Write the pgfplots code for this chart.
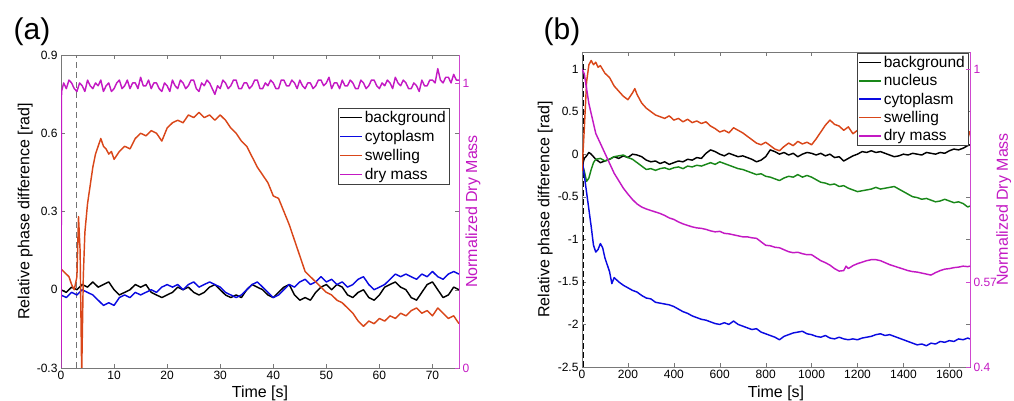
\documentclass[border=0pt]{standalone}
\usepackage{fontspec}
\setmainfont{Liberation Sans}
\usepackage{pgfplots}
\pgfplotsset{compat=1.18}

\definecolor{colSwell}{RGB}{217,70,25}
\definecolor{colCyto}{RGB}{10,10,225}
\definecolor{colNuc}{RGB}{25,135,25}
\definecolor{colDry}{RGB}{195,25,195}
\definecolor{axgray}{RGB}{120,120,120}

\pgfplotsset{
  base/.style={
    scale only axis,
    /pgf/number format/assume math mode=true,
    /pgf/number format/1000 sep={},
    tick label style={font=\fontsize{12}{14}\selectfont},
    label style={font=\fontsize{16}{18}\selectfont},
    axis line style={axgray},
    tick style={axgray},
    tick align=inside,
    major tick length=4pt,
    clip=true,
  },
  dat/.style={line width=1.45pt, line join=round},
  legbox/.style={
    legend style={draw=black!75, fill=white,
      font=\fontsize{15.5}{16}\selectfont,
      inner xsep=1pt, inner ysep=1pt, row sep=2.3pt,
      cells={anchor=west}},
    legend image code/.code={\draw[##1] (0pt,0pt) -- (22pt,0pt);},
  },
}

\begin{document}
\begin{tikzpicture}
\path[use as bounding box] (0pt,0pt) rectangle (1014pt,401pt);

% ---------------- panel (a) ----------------
\begin{axis}[base, legbox,
  at={(61pt,33pt)}, anchor=south west,
  width=398pt, height=313pt,
  xmin=0, xmax=75, ymin=-0.3, ymax=0.9,
  xtick={0,10,...,70}, ytick={-0.3,0,0.3,0.6,0.9},
  yticklabels={-0.3,0,0.3,0.6,0.9},
  xlabel={Time [s]}, ylabel={Relative phase difference [rad]},
  xlabel style={at={(axis description cs:0.5,-0.08)}, anchor=center},
  ylabel style={at={(axis description cs:-0.09,0.5)}, anchor=center},
  legend style={at={(0.975,0.831)}, anchor=north east},
]
\addplot[forget plot, line width=1.3pt, dash pattern=on 6pt off 4pt, black!55] coordinates {(2.9,-0.3) (2.9,0.9)};
% background
\addplot[dat, black] coordinates {
(0,0.00)(1,-0.01)(2,0.01)(3,0.00)(4,0.02)(5,0.01)(6,0.03)(7,0.01)(8,0.02)(9,0.03)
(10,0.00)(11,-0.02)(12,-0.01)(13,0.00)(14,0.02)(15,0.01)(16,0.02)(17,-0.01)(18,-0.02)(19,-0.03)
(20,-0.02)(21,-0.01)(22,0.01)(23,0.00)(24,0.01)(25,-0.01)(26,-0.02)(27,-0.01)(28,0.01)(29,0.02)
(30,0.00)(31,-0.02)(32,-0.03)(33,-0.02)(34,-0.03)(35,0.00)(36,0.02)(37,0.01)(38,0.00)(39,-0.02)
(40,-0.03)(41,-0.01)(42,0.01)(43,0.02)(44,-0.02)(45,-0.04)(46,-0.03)(47,-0.04)(48,-0.01)(49,0.01)
(50,0.02)(51,0.00)(52,0.02)(53,0.01)(54,-0.02)(55,-0.03)(56,-0.01)(57,0.00)(58,-0.03)(59,-0.04)
(60,-0.02)(61,0.01)(62,0.02)(63,0.03)(64,0.01)(65,0.00)(66,-0.03)(67,-0.04)(68,-0.01)(69,0.02)
(70,0.03)(71,0.00)(72,-0.03)(73,-0.02)(74,0.01)(75,0.00)};
\addlegendentry{background}
% cytoplasm
\addplot[dat, colCyto] coordinates {
(0,-0.02)(1,-0.03)(2,-0.01)(3,-0.02)(4,0.00)(5,-0.01)(6,-0.02)(7,-0.04)(8,-0.06)(9,-0.05)
(10,-0.06)(11,-0.03)(12,-0.02)(13,-0.03)(14,-0.01)(15,-0.02)(16,-0.01)(17,0.00)(18,-0.01)(19,0.01)
(20,0.02)(21,0.01)(22,0.02)(23,0.00)(24,0.02)(25,0.03)(26,0.01)(27,0.02)(28,0.03)(29,0.02)
(30,0.01)(31,-0.01)(32,-0.02)(33,-0.03)(34,-0.02)(35,0.00)(36,0.02)(37,0.03)(38,0.01)(39,-0.01)
(40,-0.03)(41,-0.02)(42,0.00)(43,0.02)(44,0.01)(45,0.03)(46,0.04)(47,0.02)(48,0.03)(49,0.05)
(50,0.03)(51,0.04)(52,0.02)(53,0.03)(54,0.01)(55,0.02)(56,0.04)(57,0.05)(58,0.02)(59,0.00)
(60,0.01)(61,0.02)(62,0.04)(63,0.06)(64,0.05)(65,0.06)(66,0.05)(67,0.04)(68,0.06)(69,0.05)
(70,0.07)(71,0.05)(72,0.04)(73,0.06)(74,0.07)(75,0.06)};
\addlegendentry{cytoplasm}
% swelling
\addplot[dat, colSwell] coordinates {
(0,0.08)(0.5,0.07)(1,0.06)(1.5,0.05)(2,0.02)(2.5,0.00)(3,0.05)(3.3,0.28)(3.6,0.15)(3.9,-0.32)
(4.2,0.05)(4.5,0.22)(5,0.33)(5.5,0.40)(6,0.47)(6.5,0.52)(7,0.55)(7.5,0.58)(8,0.55)(8.5,0.54)
(9,0.52)(9.5,0.53)(10,0.50)(11,0.53)(12,0.55)(13,0.54)(14,0.58)(15,0.60)(16,0.59)(17,0.61)
(18,0.60)(19,0.57)(20,0.62)(21,0.64)(22,0.65)(23,0.64)(24,0.67)(25,0.66)(26,0.68)(27,0.66)
(28,0.67)(29,0.65)(30,0.67)(31,0.65)(32,0.62)(33,0.60)(34,0.57)(35,0.55)(36,0.51)(37,0.47)
(38,0.44)(39,0.41)(40,0.36)(41,0.35)(42,0.30)(43,0.25)(44,0.19)(45,0.13)(46,0.07)(47,0.05)
(48,0.03)(49,0.01)(50,-0.01)(51,-0.02)(52,-0.04)(53,-0.05)(54,-0.07)(55,-0.09)(56,-0.12)(57,-0.14)
(58,-0.12)(59,-0.13)(60,-0.11)(61,-0.12)(62,-0.10)(63,-0.11)(64,-0.09)(65,-0.10)(66,-0.08)(67,-0.07)
(68,-0.09)(69,-0.08)(70,-0.10)(71,-0.07)(72,-0.09)(73,-0.11)(74,-0.10)(75,-0.13)};
\addlegendentry{swelling}
\addlegendimage{dat, colDry}
\addlegendentry{dry mass}
\end{axis}

\begin{axis}[base,
  at={(61pt,33pt)}, anchor=south west,
  width=398pt, height=313pt,
  xmin=0, xmax=75, ymin=0, ymax=1.098,
  axis x line=none, axis y line*=right,
  y axis line style={colDry!80}, ytick style={colDry!80},
  yticklabel style={text=colDry},
  ytick={0,1},
  ylabel={Normalized Dry Mass},
  ylabel style={text=colDry, at={(axis description cs:1.035,0.5)}, anchor=center},
]
\addplot[dat, colDry] coordinates {
(0,0.00)(0.1,0.97)(0.5,1.00)(1,0.98)(1.5,1.01)(2,1.00)(2.5,0.98)(3,0.97)(3.5,1.00)(4,0.99)(4.5,0.97)
(5,1.01)(5.5,0.99)(6,0.98)(6.5,1.00)(7,0.99)(7.5,1.01)(8,0.97)(8.5,0.99)(9,1.00)(9.5,0.97)
(10,0.98)(10.5,1.00)(11,1.01)(11.5,0.98)(12,0.99)(12.5,1.01)(13,0.98)(13.5,1.00)(14,1.00)(14.5,0.98)
(15,1.02)(15.5,0.99)(16,0.99)(16.5,1.01)(17,0.98)(17.5,1.00)(18,1.00)(18.5,0.98)(19,0.97)(19.5,1.00)
(20,0.99)(20.5,0.97)(21,1.01)(21.5,0.99)(22,0.98)(22.5,1.01)(23,1.00)(23.5,0.98)(24,0.99)(24.5,1.01)
(25,1.01)(25.5,0.98)(26,0.97)(26.5,1.00)(27,0.99)(27.5,1.01)(28,1.00)(28.5,0.98)(29,0.96)(29.5,0.99)
(30,0.98)(30.5,1.01)(31,1.00)(31.5,0.98)(32,0.99)(32.5,1.01)(33,1.01)(33.5,0.98)(34,0.98)(34.5,1.00)
(35,1.00)(35.5,0.98)(36,0.99)(36.5,1.01)(37,1.01)(37.5,0.98)(38,0.98)(38.5,1.00)(39,0.99)(39.5,1.01)
(40,1.00)(40.5,0.98)(41,0.98)(41.5,1.01)(42,1.01)(42.5,0.99)(43,0.99)(43.5,1.01)(44,1.00)(44.5,0.98)
(45,1.01)(45.5,0.99)(46,0.98)(46.5,1.00)(47,1.00)(47.5,0.98)(48,0.99)(48.5,1.01)(49,1.01)(49.5,0.99)
(50,1.00)(50.5,1.02)(51,0.98)(51.5,1.00)(52,1.00)(52.5,0.98)(53,1.01)(53.5,0.99)(54,0.99)(54.5,1.01)
(55,1.00)(55.5,0.98)(56,0.98)(56.5,1.01)(57,1.00)(57.5,0.98)(58,0.99)(58.5,1.01)(59,1.01)(59.5,0.99)
(60,0.98)(60.5,1.00)(61,0.99)(61.5,1.01)(62,1.00)(62.5,0.98)(63,1.02)(63.5,1.00)(64,0.99)(64.5,1.01)
(65,1.00)(65.5,0.98)(66,0.98)(66.5,1.00)(67,0.99)(67.5,0.97)(68,1.01)(68.5,0.99)(69,0.99)(69.5,1.01)
(70,1.01)(70.5,1.00)(71,1.05)(71.5,1.01)(72,1.00)(72.5,1.02)(73,1.02)(73.5,1.00)(74,1.03)(74.5,1.01)(75,1.01)};
\end{axis}

% ---------------- panel (b) ----------------
\begin{axis}[base, legbox,
  at={(582pt,34pt)}, anchor=south west,
  width=388pt, height=315pt,
  xmin=0, xmax=1690, ymin=-2.5, ymax=1.2,
  xtick={0,200,...,1600}, ytick={-2.5,-2,-1.5,-1,-0.5,0,0.5,1},
  yticklabels={-2.5,-2,-1.5,-1,-0.5,0,0.5,1},
  xlabel={Time [s]}, ylabel={Relative phase difference [rad]},
  xlabel style={at={(axis description cs:0.5,-0.0825)}, anchor=center},
  ylabel style={at={(axis description cs:-0.095,0.5)}, anchor=center},
  legend style={at={(0.995,0.997)}, anchor=north east, row sep=1.6pt},
]
\addplot[forget plot, line width=1.4pt, dash pattern=on 6pt off 3pt, black] coordinates {(6,-2.5) (6,1.2)};
% background
\addplot[dat, black] coordinates {
(0,-0.15)(10,-0.05)(20,-0.02)(30,0.02)(40,0.00)(50,-0.03)(60,-0.06)(80,-0.10)(100,-0.08)(120,-0.06)
(140,-0.03)(160,-0.05)(180,-0.02)(200,-0.04)(220,0.00)(240,-0.01)(260,-0.03)(280,-0.07)(300,-0.09)(320,-0.08)
(340,-0.11)(360,-0.09)(380,-0.12)(400,-0.10)(420,-0.08)(440,-0.09)(460,-0.06)(480,-0.07)(500,-0.04)(520,-0.05)
(540,0.01)(560,0.05)(580,0.03)(600,0.00)(620,-0.02)(640,0.01)(660,-0.01)(680,-0.03)(700,-0.02)(720,-0.04)
(740,-0.06)(760,-0.09)(780,-0.07)(800,-0.03)(820,0.05)(840,0.03)(860,0.00)(880,0.02)(900,-0.01)(920,0.01)
(940,-0.03)(960,0.00)(980,0.02)(1000,0.01)(1020,-0.01)(1040,0.01)(1060,-0.02)(1080,0.00)(1100,-0.04)(1120,-0.03)
(1140,-0.08)(1160,-0.05)(1180,-0.02)(1200,0.00)(1220,0.03)(1240,0.02)(1260,0.04)(1280,0.02)(1300,0.03)(1320,0.01)
(1340,-0.01)(1360,-0.03)(1380,-0.02)(1400,0.00)(1420,-0.01)(1440,0.01)(1460,0.00)(1480,-0.01)(1500,0.02)(1520,0.01)
(1540,0.00)(1560,0.02)(1580,0.01)(1600,0.04)(1620,0.06)(1640,0.05)(1660,0.07)(1680,0.10)(1690,0.11)};
\addlegendentry{background}
% nucleus
\addplot[dat, colNuc] coordinates {
(0,-0.10)(10,-0.20)(20,-0.32)(30,-0.28)(40,-0.18)(50,-0.10)(60,-0.06)(80,-0.05)(100,-0.08)(120,-0.06)
(140,-0.03)(160,-0.02)(180,-0.01)(200,-0.04)(220,-0.06)(240,-0.10)(260,-0.14)(280,-0.18)(300,-0.17)(320,-0.19)
(340,-0.17)(360,-0.16)(380,-0.18)(400,-0.16)(420,-0.15)(440,-0.17)(460,-0.14)(480,-0.15)(500,-0.13)(520,-0.14)
(540,-0.12)(560,-0.10)(580,-0.12)(600,-0.09)(620,-0.11)(640,-0.13)(660,-0.15)(680,-0.17)(700,-0.18)(720,-0.20)
(740,-0.22)(760,-0.24)(780,-0.23)(800,-0.26)(820,-0.27)(840,-0.29)(860,-0.31)(880,-0.28)(900,-0.26)(920,-0.27)
(940,-0.24)(960,-0.27)(980,-0.25)(1000,-0.27)(1020,-0.30)(1040,-0.33)(1060,-0.34)(1080,-0.36)(1100,-0.35)(1120,-0.38)
(1140,-0.37)(1160,-0.40)(1180,-0.42)(1200,-0.44)(1220,-0.43)(1240,-0.42)(1260,-0.41)(1280,-0.39)(1300,-0.41)(1320,-0.40)
(1340,-0.39)(1360,-0.38)(1380,-0.41)(1400,-0.44)(1420,-0.47)(1440,-0.50)(1460,-0.51)(1480,-0.53)(1500,-0.52)(1520,-0.54)
(1540,-0.56)(1560,-0.55)(1580,-0.53)(1600,-0.55)(1620,-0.57)(1640,-0.56)(1660,-0.58)(1680,-0.62)(1690,-0.61)};
\addlegendentry{nucleus}
% cytoplasm
\addplot[dat, colCyto] coordinates {
(0,-0.05)(10,-0.25)(20,-0.45)(30,-0.65)(40,-0.85)(50,-1.07)(60,-1.15)(70,-1.12)(80,-1.05)(90,-1.10)
(100,-1.22)(110,-1.30)(120,-1.38)(130,-1.52)(140,-1.45)(160,-1.50)(180,-1.54)(200,-1.57)(220,-1.60)(240,-1.62)
(260,-1.66)(280,-1.69)(300,-1.70)(320,-1.74)(340,-1.75)(360,-1.76)(380,-1.77)(400,-1.79)(420,-1.82)(440,-1.85)
(460,-1.87)(480,-1.90)(500,-1.92)(520,-1.94)(540,-1.95)(560,-1.97)(580,-1.99)(600,-2.00)(620,-1.98)(640,-2.00)
(660,-1.96)(680,-2.00)(700,-2.02)(720,-2.04)(740,-2.06)(760,-2.05)(780,-2.09)(800,-2.11)(820,-2.13)(840,-2.15)
(860,-2.18)(880,-2.14)(900,-2.12)(920,-2.10)(940,-2.09)(960,-2.08)(980,-2.11)(1000,-2.12)(1020,-2.14)(1040,-2.15)
(1060,-2.13)(1080,-2.16)(1100,-2.17)(1120,-2.15)(1140,-2.17)(1160,-2.18)(1180,-2.17)(1200,-2.18)(1220,-2.16)(1240,-2.15)
(1260,-2.14)(1280,-2.12)(1300,-2.11)(1320,-2.13)(1340,-2.12)(1360,-2.14)(1380,-2.16)(1400,-2.18)(1420,-2.20)(1440,-2.22)
(1460,-2.24)(1480,-2.23)(1500,-2.25)(1520,-2.22)(1540,-2.23)(1560,-2.20)(1580,-2.21)(1600,-2.19)(1620,-2.20)(1640,-2.17)
(1660,-2.18)(1680,-2.16)(1690,-2.17)};
\addlegendentry{cytoplasm}
% swelling
\addplot[dat, colSwell] coordinates {
(0,-0.20)(10,0.30)(20,0.85)(30,1.05)(40,1.10)(50,1.05)(60,1.08)(70,1.02)(80,1.04)(100,0.95)
(120,0.90)(140,0.80)(160,0.74)(180,0.68)(200,0.64)(220,0.72)(230,0.77)(240,0.70)(260,0.60)(280,0.54)
(300,0.50)(320,0.46)(340,0.44)(360,0.42)(380,0.45)(400,0.40)(420,0.42)(440,0.38)(460,0.41)(480,0.37)
(500,0.39)(520,0.36)(540,0.38)(560,0.33)(580,0.30)(600,0.26)(620,0.28)(640,0.25)(660,0.31)(680,0.28)
(700,0.25)(720,0.21)(740,0.17)(760,0.13)(780,0.11)(800,0.14)(820,0.10)(840,0.06)(860,0.04)(880,0.09)
(900,0.13)(920,0.10)(940,0.15)(960,0.12)(980,0.14)(1000,0.11)(1020,0.18)(1040,0.26)(1060,0.34)(1080,0.40)
(1100,0.35)(1120,0.33)(1140,0.28)(1160,0.32)(1180,0.24)(1200,0.28)(1220,0.30)(1240,0.26)(1260,0.30)(1280,0.33)
(1300,0.28)(1320,0.30)(1340,0.26)(1360,0.29)(1380,0.27)(1400,0.31)(1420,0.28)(1440,0.25)(1460,0.27)(1480,0.24)
(1500,0.26)(1520,0.23)(1540,0.25)(1560,0.22)(1580,0.24)(1600,0.21)(1620,0.23)(1640,0.20)(1660,0.22)(1680,0.18)
(1690,0.27)};
\addlegendentry{swelling}
\addlegendimage{dat, colDry}
\addlegendentry{dry mass}
\end{axis}

\begin{axis}[base,
  at={(582pt,34pt)}, anchor=south west,
  width=388pt, height=315pt,
  xmin=0, xmax=1690, ymin=0.4, ymax=1.034,
  axis x line=none, axis y line*=right,
  y axis line style={colDry!80}, ytick style={colDry!80},
  yticklabel style={text=colDry},
  ytick={0.4,0.57,1}, yticklabels={0.4,0.57,1},
  ylabel={Normalized Dry Mass},
  ylabel style={text=colDry, at={(axis description cs:1.087,0.5)}, anchor=center},
]
\addplot[dat, colDry] coordinates {
(0,1.00)(10,0.99)(20,0.96)(30,0.93)(40,0.91)(50,0.89)(60,0.87)(80,0.85)(100,0.83)(120,0.81)
(140,0.79)(160,0.775)(180,0.76)(200,0.748)(220,0.737)(240,0.728)(260,0.722)(280,0.718)(300,0.715)(320,0.712)
(340,0.709)(360,0.705)(380,0.700)(400,0.697)(420,0.692)(440,0.688)(460,0.685)(480,0.682)(500,0.680)(520,0.679)
(540,0.677)(560,0.674)(580,0.672)(600,0.673)(620,0.669)(640,0.668)(660,0.666)(680,0.664)(700,0.662)(720,0.662)
(740,0.660)(760,0.659)(780,0.652)(800,0.645)(820,0.644)(840,0.641)(860,0.640)(880,0.636)(900,0.632)(920,0.630)
(940,0.631)(960,0.628)(980,0.626)(1000,0.626)(1020,0.620)(1040,0.614)(1060,0.610)(1080,0.605)(1100,0.598)(1120,0.593)
(1140,0.594)(1150,0.603)(1160,0.598)(1180,0.604)(1200,0.608)(1220,0.611)(1240,0.614)(1260,0.616)(1280,0.616)(1300,0.614)
(1320,0.610)(1340,0.606)(1360,0.603)(1380,0.600)(1400,0.597)(1420,0.594)(1440,0.592)(1460,0.591)(1480,0.589)(1500,0.587)
(1520,0.585)(1540,0.590)(1560,0.594)(1580,0.597)(1600,0.598)(1620,0.600)(1640,0.601)(1660,0.603)(1680,0.602)(1690,0.603)};
\end{axis}

\node[font=\fontsize{30}{32}\selectfont] at (32pt,369pt) {(a)};
\node[font=\fontsize{30}{32}\selectfont] at (562pt,369pt) {(b)};
\end{tikzpicture}
\end{document}
